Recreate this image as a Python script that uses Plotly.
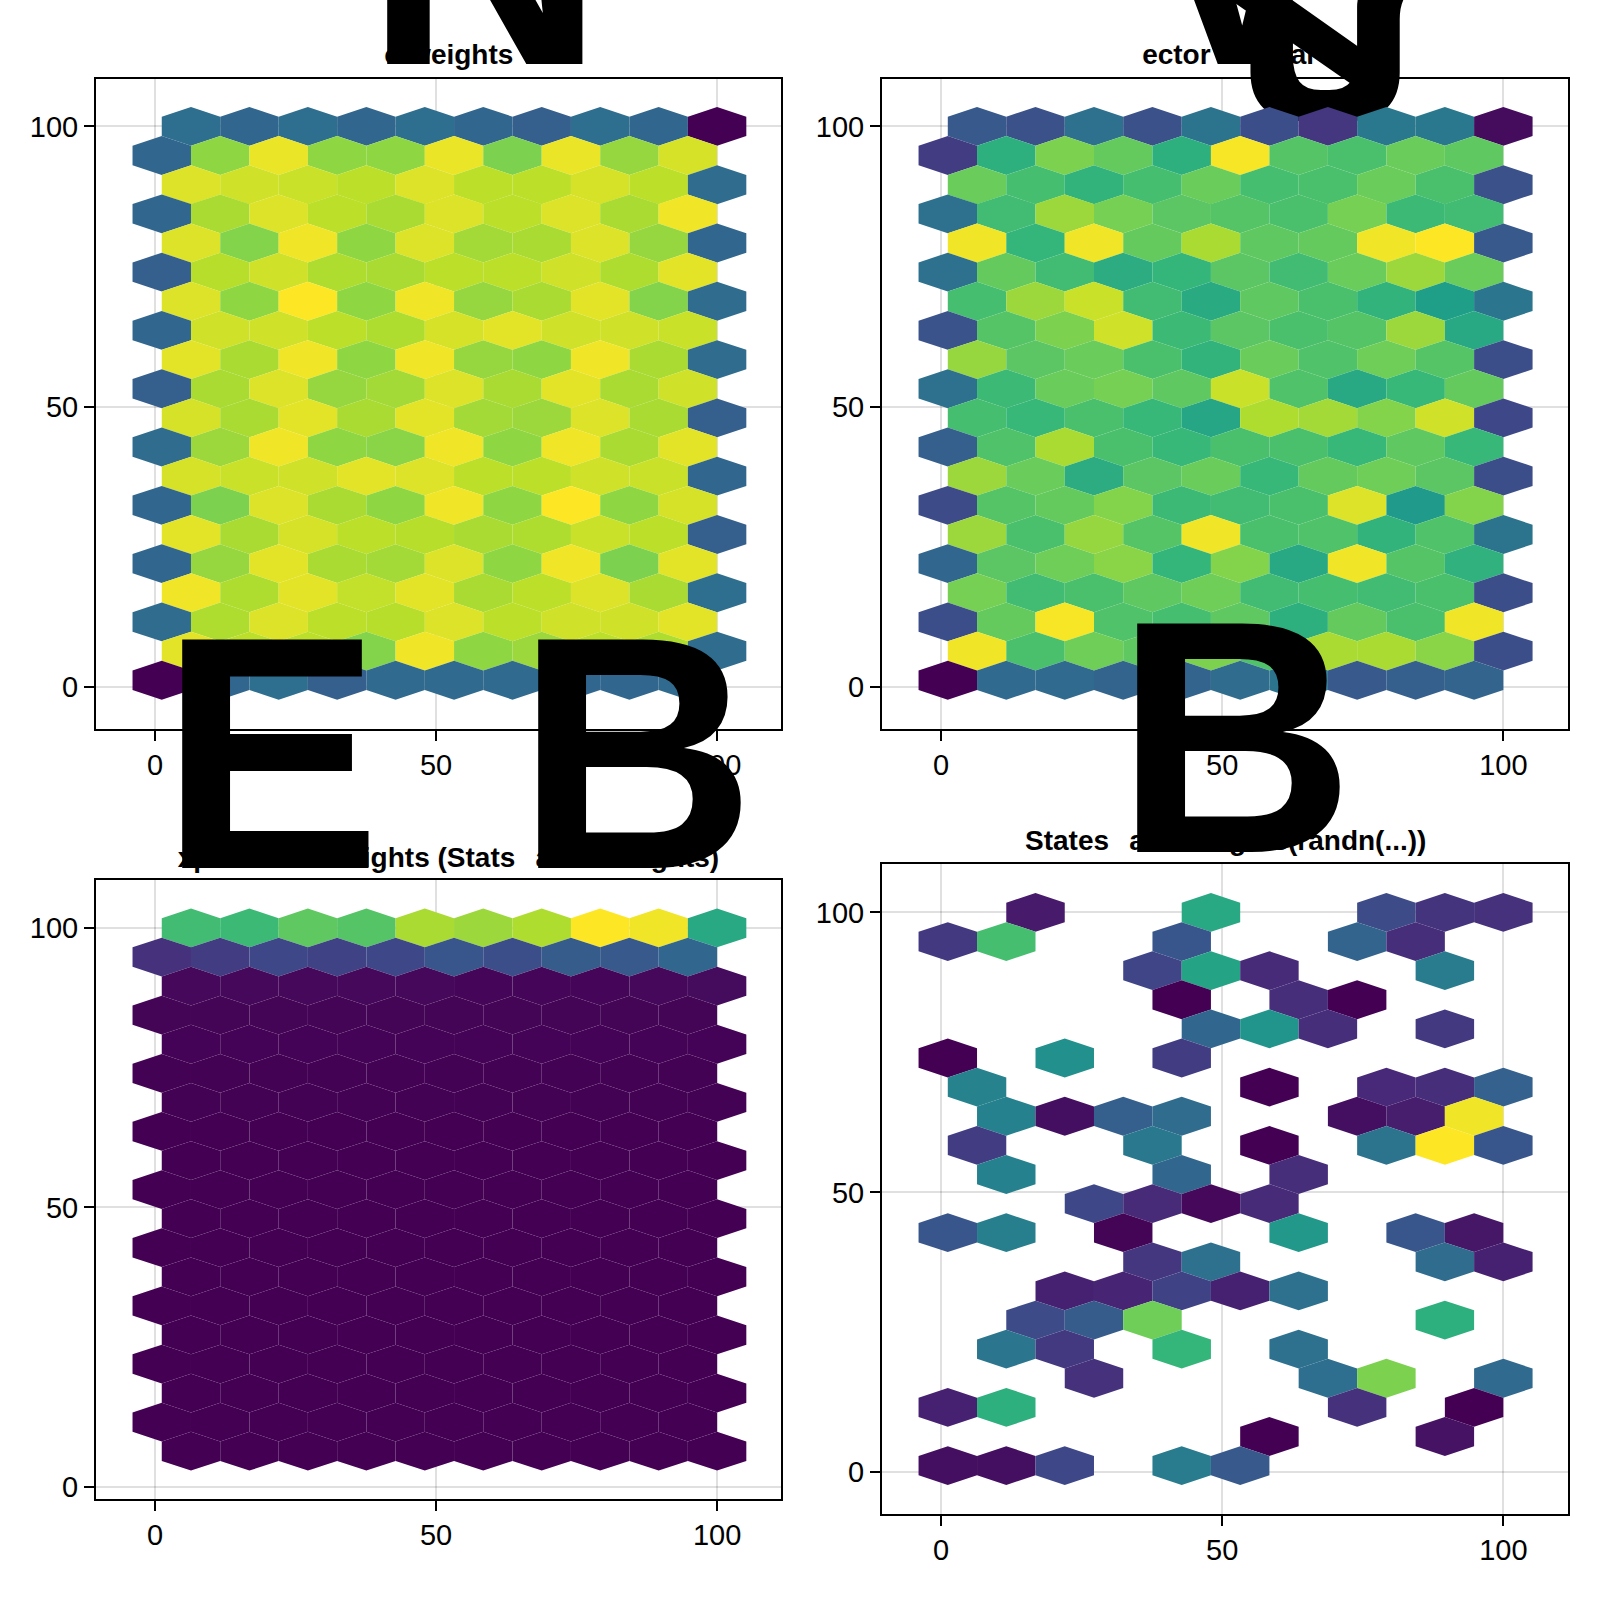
import plotly.graph_objects as go
from plotly.colors import sample_colorscale

W = 1600
STEP_X = 10.4
STEP_Y = 5.2
RADIUS = 3.467
FONT = "Liberation Sans"
BIG = 332
SMALL = 28

# normalised bin counts, rows from y=100 downwards, ten cells per row
weights_none = [
    [.36,.33,.36,.33,.36,.33,.30,.36,.33,0],
    [.33,.83,.97,.83,.83,.97,.80,.97,.84,.94],
    [.95,.93,.92,.90,.95,.90,.90,.94,.90,.35],
    [.33,.87,.95,.90,.87,.95,.90,.95,.87,.98],
    [.95,.81,.98,.83,.95,.86,.87,.95,.84,.33],
    [.30,.89,.93,.88,.87,.90,.90,.93,.88,.96],
    [.95,.83,1.0,.83,.98,.84,.87,.96,.81,.35],
    [.33,.93,.93,.90,.88,.94,.96,.93,.93,.92],
    [.96,.87,.98,.83,.98,.84,.83,.98,.87,.35],
    [.30,.87,.95,.84,.86,.95,.87,.96,.87,.93],
    [.94,.87,.96,.87,.96,.86,.85,.95,.87,.30],
    [.35,.85,.98,.83,.82,.98,.83,.98,.87,.96],
    [.94,.92,.93,.96,.95,.90,.90,.93,.92,.33],
    [.33,.80,.95,.87,.83,.98,.83,1.0,.83,.94],
    [.96,.87,.94,.90,.89,.87,.88,.92,.90,.30],
    [.33,.84,.96,.87,.86,.95,.83,.98,.80,.96],
    [.98,.88,.96,.91,.96,.87,.90,.95,.87,.36],
    [.35,.88,.95,.90,.89,.95,.90,.93,.93,.96],
    [.96,.90,.90,.81,.98,.83,.85,.90,.88,.35],
    [0,.33,.36,.30,.34,.34,.34,.33,.33,.34],
]
vector_real = [
    [.28,.25,.37,.25,.38,.24,.16,.40,.40,.03],
    [.18,.63,.80,.76,.63,.99,.73,.71,.77,.75],
    [.77,.70,.65,.70,.77,.70,.71,.77,.71,.25],
    [.37,.69,.85,.79,.74,.73,.71,.79,.68,.69],
    [.98,.66,.98,.76,.87,.75,.76,.98,1.0,.28],
    [.37,.76,.69,.62,.66,.74,.69,.77,.85,.77],
    [.70,.85,.92,.69,.61,.75,.71,.65,.56,.39],
    [.26,.73,.80,.93,.68,.74,.71,.73,.85,.60],
    [.84,.74,.77,.71,.65,.77,.72,.78,.73,.24],
    [.37,.68,.77,.79,.75,.92,.72,.60,.67,.76],
    [.70,.67,.71,.67,.59,.88,.86,.81,.93,.22],
    [.30,.72,.87,.71,.67,.71,.71,.67,.75,.67],
    [.85,.77,.62,.74,.77,.67,.76,.78,.74,.24],
    [.23,.73,.76,.81,.68,.69,.71,.95,.54,.81],
    [.85,.71,.84,.73,.98,.71,.72,.65,.72,.38],
    [.33,.74,.78,.82,.66,.81,.60,.98,.73,.64],
    [.79,.69,.71,.75,.78,.69,.70,.69,.71,.24],
    [.24,.76,.99,.72,.70,.75,.63,.76,.71,.98],
    [.98,.71,.78,.75,.80,.72,.87,.87,.82,.24],
    [0,.34,.34,.32,.32,.35,.38,.28,.30,.32],
]
exponential = [
    [.69,.68,.75,.73,.87,.85,.88,1.0,.98,.60],
    [.14,.18,.22,.20,.22,.27,.24,.29,.28,.33],
    [.02,.02,.02,.02,.02,.015,.015,.015,.02,.03],
    [.01,.01,.01,.01,.01,.01,.01,.01,.01,.01],
    [.005,.005,.005,.005,.005,.005,.005,.005,.005,.005],
    [.003,.003,.003,.003,.003,.003,.003,.003,.003,.003],
    [.002,.002,.002,.002,.002,.002,.002,.002,.002,.002],
    [.001,.001,.001,.001,.001,.001,.001,.001,.001,.001],
    [0,0,0,0,0,0,0,0,0,0],
    [0,0,0,0,0,0,0,0,0,0],
    [0,0,0,0,0,0,0,0,0,0],
    [0,0,0,0,0,0,0,0,0,0],
    [0,0,0,0,0,0,0,0,0,0],
    [0,0,0,0,0,0,0,0,0,0],
    [0,0,0,0,0,0,0,0,0,0],
    [0,0,0,0,0,0,0,0,0,0],
    [0,0,0,0,0,0,0,0,0,0],
    [0,0,0,0,0,0,0,0,0,0],
    [0,0,0,0,0,0,0,0,0,0],
]
N = None
randn_weights = [
    [N,.07,N,N,.60,N,N,.23,.15,.14],
    [.17,.70,N,N,.27,N,N,.32,.13,N],
    [N,N,N,.21,.58,.12,N,N,.42,N],
    [N,N,N,N,0,N,.13,0,N,N],
    [N,N,N,N,.33,.52,.13,N,.17,N],
    [0,N,.50,N,.18,N,N,N,N,N],
    [.45,N,N,N,N,0,N,.11,.13,.31],
    [N,.44,.04,.30,.35,N,N,.04,.08,.98],
    [.18,N,N,.40,N,0,N,.38,1.0,.27],
    [N,.44,N,N,.33,N,.13,N,N,N],
    [N,N,.22,.12,.02,.12,N,N,N,N],
    [.27,.43,N,.01,N,N,.53,N,.27,.06],
    [N,N,N,.16,.37,N,N,N,.35,.09],
    [N,N,.09,.10,.20,.09,.37,N,N,N],
    [N,.23,.29,.78,N,N,N,N,.63,N],
    [N,.39,.17,N,.66,N,.37,N,N,N],
    [N,N,.14,N,N,N,.36,.80,N,.34],
    [.09,.63,N,N,N,N,N,.14,N,0],
    [N,N,N,N,N,0,N,N,.05,N],
    [.04,.04,.22,N,.42,.28,N,N,N,N],
]

panels = [
    # data, axis suffix, pixel box (l, r, t, b), x range, y range
    (weights_none, "2", (96, 781, 79, 731), (-10.5, 111.37), (-7.53, 108.49)),
    (vector_real, "3", (882, 1568, 79, 731), (-10.5, 111.5), (-7.53, 108.49)),
    (exponential, "4", (96, 781, 882, 1503), (-10.5, 111.37), (-2.19, 108.62)),
    (randn_weights, "5", (882, 1568, 866, 1518), (-10.5, 111.5), (-7.48, 108.68)),
]

fig = go.Figure()

# full-page layer under the panels, for the title glyphs the hexagons cover
fig.update_layout(
    xaxis=dict(domain=[0, 1], range=[0, W], visible=False),
    yaxis=dict(domain=[0, 1], range=[W, 0], visible=False),
)
BRACE_BASE = 65
fig.add_trace(go.Scatter(
    x=[1208, 1313], y=[BRACE_BASE + 0.212 * BIG] * 2,
    mode="text", text=["<b>{</b>", "<b>}</b>"], textposition="top right",
    textfont=dict(family=FONT, size=BIG, color="black"),
    cliponaxis=False, showlegend=False, hoverinfo="skip",
))


def hex_outline(cx, cy):
    return ([cx - STEP_Y, cx, cx + STEP_Y, cx + STEP_Y, cx, cx - STEP_Y, cx - STEP_Y],
            [cy - RADIUS / 2, cy - RADIUS, cy - RADIUS / 2, cy + RADIUS / 2, cy + RADIUS, cy + RADIUS / 2, cy - RADIUS / 2])


for data, suffix, (l, r, t, b), xr, yr in panels:
    fig.update_layout({
        "xaxis" + suffix: dict(domain=[l / W, r / W], range=list(xr), anchor="y" + suffix,
                               tickvals=[0, 50, 100], ticktext=["0", "50", "100"]),
        "yaxis" + suffix: dict(domain=[1 - b / W, 1 - t / W], range=list(yr), anchor="x" + suffix,
                               tickvals=[0, 50, 100], ticktext=["0", "50", "100"]),
    })
    for k, row in enumerate(data):
        cy = 100 - STEP_Y * k
        x0 = 6.4 if k % 2 == 0 else 1.2
        for j, value in enumerate(row):
            if value is None:
                continue
            xs, ys = hex_outline(x0 + STEP_X * j, cy)
            fig.add_trace(go.Scatter(
                x=xs, y=ys, xaxis="x" + suffix, yaxis="y" + suffix,
                mode="lines", fill="toself", line=dict(width=0),
                fillcolor=sample_colorscale("Viridis", [value])[0],
                showlegend=False, hoverinfo="skip",
            ))

axis_style = dict(showgrid=True, gridcolor="rgba(0,0,0,0.12)", gridwidth=2, zeroline=False,
                  showline=True, mirror=True, linecolor="black", linewidth=2,
                  ticks="outside", ticklen=10, tickwidth=2, tickcolor="black",
                  tickfont=dict(family=FONT, size=29, color="black"))
for suffix in "2345":
    fig.update_layout({"xaxis" + suffix: dict(axis_style, ticklabelstandoff=-1),
                       "yaxis" + suffix: dict(axis_style, ticklabelstandoff=0)})

HIDE = '<span style="color:rgba(0,0,0,0)">%s</span>'
titles = [
    (HIDE % "N" + "o weights", 438.5, 65),
    (HIDE % "V" + "ector" + HIDE % "{" + HIDE % "&lt;" + ": Real" + HIDE % "}", 1225, 65),
    (HIDE % "E" + "xponential weights (Stats" + HIDE % "B" + "ase.eweights)", 439, 870),
    ("States" + HIDE % "B" + "ase.weights(randn(...))", 1225, 853),
]
big_glyphs = [
    ("N", 364, 65),
    ("V", 1130, 65),
    ("E", 159, 871),
    ("B", 515, 871),
    ("B", 1114, 855),
]
ann = []
for text, cx, base in titles:
    ann.append(dict(text="<b>%s</b>" % text, x=cx / W, y=1 - (base + 0.212 * SMALL) / W, xref="paper", yref="paper",
                    xanchor="center", yanchor="bottom", showarrow=False, borderpad=0,
                    font=dict(family=FONT, size=SMALL, color="black")))
for text, x0, base in big_glyphs:
    ann.append(dict(text="<b>%s</b>" % text, x=x0 / W, y=1 - (base + 0.212 * BIG) / W, xref="paper", yref="paper",
                    xanchor="left", yanchor="bottom", showarrow=False, borderpad=0,
                    font=dict(family=FONT, size=BIG, color="black")))
# arm of the oversized "<" in the second title
ann.append(dict(text="<b>&lt;</b>", x=1172 / W, y=1 - 190 / W, xref="paper", yref="paper",
                xanchor="left", yanchor="bottom", showarrow=False, borderpad=0, textangle=14,
                font=dict(family=FONT, size=BIG, color="black")))

fig.update_layout(width=W, height=W, margin=dict(l=0, r=0, t=0, b=0),
                  paper_bgcolor="white", plot_bgcolor="rgba(0,0,0,0)",
                  showlegend=False, annotations=ann)
fig.write_html("out.html", config={"displayModeBar": False},
               post_script="document.body.style.margin='0';")
